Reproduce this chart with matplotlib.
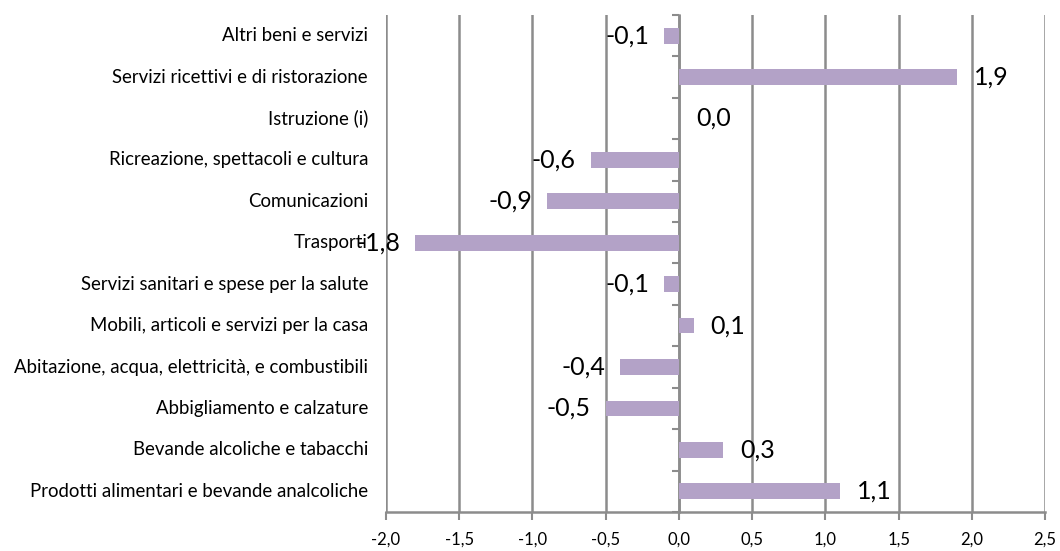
import matplotlib
matplotlib.use("Agg")
import matplotlib.pyplot as plt
import matplotlib.transforms as mtransforms
import numpy as np

categories = [
    "Prodotti alimentari e bevande analcoliche",
    "Bevande alcoliche e tabacchi",
    "Abbigliamento e calzature",
    "Abitazione, acqua, elettricità, e combustibili",
    "Mobili, articoli e servizi per la casa",
    "Servizi sanitari e spese per la salute",
    "Trasporti",
    "Comunicazioni",
    "Ricreazione, spettacoli e cultura",
    "Istruzione (i)",
    "Servizi ricettivi e di ristorazione",
    "Altri beni e servizi",
]
values = [1.1, 0.3, -0.5, -0.4, 0.1, -0.1, -1.8, -0.9, -0.6, 0.0, 1.9, -0.1]
xticks = [-2.0, -1.5, -1.0, -0.5, 0.0, 0.5, 1.0, 1.5, 2.0, 2.5]

plt.rcParams["font.family"] = ["Lato", "DejaVu Sans"]
bar_color = "#B3A2C7"
grid_color = "#8C8C8C"

fig = plt.figure(figsize=(10.6, 5.51), dpi=100)
ax = fig.add_axes([0.364, 0.0708, 0.622, 0.902])

y = np.arange(len(categories))
ax.barh(y, values, height=0.38, color=bar_color, zorder=3)

ax.set_xlim(xticks[0], xticks[-1])
ax.set_ylim(-0.5, len(categories) - 0.5)
ax.set_xticks(xticks)
ax.set_xticklabels([f"{t:.1f}".replace(".", ",") for t in xticks], fontsize=12)
ax.tick_params(axis="x", length=6, width=1.5, color=grid_color, pad=8)
ax.xaxis.grid(True, color=grid_color, linewidth=1.8, zorder=0)

for side in ["top", "right", "left"]:
    ax.spines[side].set_visible(False)
ax.spines["bottom"].set_color(grid_color)
ax.spines["bottom"].set_linewidth(1.8)
ax.set_yticks([])

# vertical axis sits at x = 0, ticks between the categories
zero_pos = (0 - xticks[0]) / (xticks[-1] - xticks[0])
sec = ax.secondary_yaxis(zero_pos)
sec.set_yticks(np.arange(len(categories) + 1) - 0.5)
sec.set_yticklabels([])
sec.tick_params(length=5, width=1.5, color=grid_color)
sec.spines["left"].set_color(grid_color)
sec.spines["left"].set_linewidth(1.8)

trans = mtransforms.blended_transform_factory(ax.transAxes, ax.transData)
for yi, cat in zip(y, categories):
    ax.text(-0.027, yi, cat, transform=trans, ha="right", va="center",
            fontsize=13.4)

for yi, v in zip(y, values):
    label = f"{v:.1f}".replace(".", ",")
    off = 17 if v >= 0 else -15
    ax.annotate(label, (v, yi), xytext=(off, 0), textcoords="offset pixels",
                ha="left" if v >= 0 else "right", va="center", fontsize=18,
                zorder=4)

fig.savefig("out.png", dpi=100)
